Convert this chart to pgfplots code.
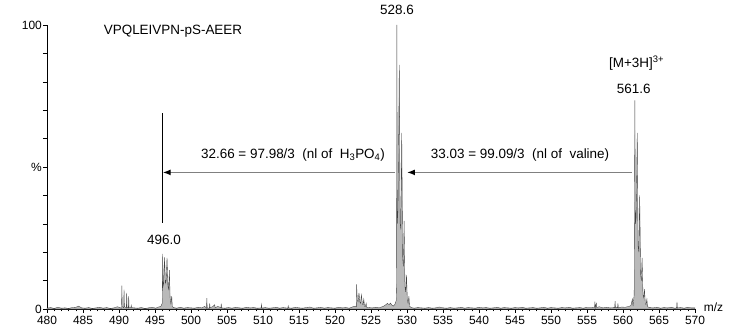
\documentclass[border=0pt]{standalone}
\usepackage{fontspec}
\setmainfont{Liberation Sans}
\usepackage{pgfplots}
\pgfplotsset{compat=1.18}
\usetikzlibrary{arrows.meta}
\begin{document}
\begin{tikzpicture}
\path[use as bounding box] (-47bp,-23bp) rectangle (683bp,309bp);
\begin{axis}[
  scale only axis, width=648bp, height=284bp,
  xmin=480, xmax=570, ymin=0, ymax=100,
  axis x line=bottom, axis y line=left,
  axis line style={-, black, line width=0.5pt},
  xtick={480,485,...,570}, minor x tick num=4,
  ytick={0,10,...,100},
  yticklabels={0,,,,,\%,,,,,100},
  tick align=outside,
  major tick length=4bp, minor tick length=2.5bp,
  tick style={black, line width=0.4pt},
  /pgf/number format/assume math mode=true,
  xticklabel style={font=\fontsize{12}{14}\selectfont, inner sep=1pt, yshift=-2bp},
  yticklabel style={font=\fontsize{12}{14}\selectfont, inner sep=1pt},
  clip=false,
]
\addplot[draw=black!75, fill=gray!55, line width=0.35pt] table {
x y
480.0 0.3
480.5 0.5
481.0 0.2
481.5 0.6
482.0 0.3
482.5 0.4
483.0 0.2
483.5 0.5
484.0 0.6
484.4 1.0
484.8 0.4
485.3 0.3
485.8 0.5
486.3 0.2
486.8 0.4
487.3 0.6
487.8 0.3
488.3 0.5
488.8 0.2
489.3 0.4
489.8 0.8
490.1 0.5
490.35 0.3
490.4 8.2
490.45 0.8
490.65 0.5
490.7 6.8
490.75 0.8
491.02 0.4
491.07 5.7
491.12 0.6
491.3 0.4
491.35 4.5
491.4 0.5
491.65 0.6
491.7 1.3
491.75 0.5
492.1 0.4
492.6 0.3
493.1 0.5
493.6 0.2
494.1 0.4
494.6 0.6
495.1 0.3
495.5 0.7
495.8 0.9
496.0 2
496.07 19.4
496.12 8
496.2 9
496.33 18.2
496.45 9
496.55 10
496.67 18.0
496.8 8
496.9 7
497.0 13.7
497.1 4
497.2 2
497.33 4.5
497.4 0.8
497.6 0.5
498.0 0.3
498.5 0.6
499.0 0.3
499.5 0.5
500.0 0.4
500.5 0.3
501.0 0.6
501.5 0.4
501.9 0.9
502.15 0.3
502.2 3.8
502.25 0.4
502.55 0.3
502.6 2.0
502.65 0.5
503.0 0.8
503.3 1.5
503.35 0.4
503.7 0.9
504.15 0.5
504.2 1.9
504.25 0.4
504.7 0.3
505.2 0.5
505.7 0.3
506.2 0.6
506.7 0.4
507.2 0.3
507.7 0.6
508.2 0.4
508.7 0.5
509.2 0.3
509.75 0.4
509.8 1.6
509.85 0.3
510.3 0.5
510.8 0.3
511.3 0.4
511.8 0.6
512.3 0.3
512.8 0.5
513.45 0.3
513.5 1.1
513.55 0.4
514.0 0.3
514.5 0.6
515.0 0.4
515.5 0.3
516.0 0.5
516.5 0.7
517.0 0.3
517.5 0.4
518.0 0.6
518.5 0.3
519.0 0.5
519.5 0.4
520.0 0.3
520.5 0.6
521.0 0.4
521.5 0.5
522.0 0.3
522.5 0.8
522.85 1.0
522.97 0.8
523.0 8.7
523.1 3
523.2 2.5
523.33 5.7
523.45 2.5
523.55 2.0
523.67 5.0
523.8 1.8
523.9 1.5
524.0 3.5
524.1 1.0
524.2 0.8
524.33 2.0
524.4 0.6
524.7 0.5
525.2 0.4
525.7 0.6
526.2 0.5
526.7 0.9
527.0 1.4
527.3 2.0
527.5 1.5
527.7 2.1
527.9 1.4
528.1 1.0
528.3 1.5
528.5 3
528.55 10
528.6 100
528.65 30
528.75 35
528.93 86
529.05 30
529.15 28
529.27 62
529.4 18
529.5 15
529.6 31
529.72 8
529.82 6
529.93 12
530.05 3
530.15 2
530.27 4.5
530.35 1
530.6 0.5
531.0 0.3
531.5 0.5
532.0 0.4
532.5 0.3
533.0 0.5
533.5 0.3
534.0 0.4
534.5 0.7
535.0 0.4
535.5 0.3
536.0 0.5
536.5 0.3
537.0 0.4
537.5 0.6
538.0 0.3
538.5 0.5
539.0 0.4
539.5 0.3
540.0 0.6
540.5 0.4
541.0 0.5
541.5 0.3
542.0 0.4
542.5 0.6
543.0 0.3
543.5 0.5
544.0 0.4
544.5 0.3
545.0 0.5
545.5 0.4
546.0 0.6
546.5 0.3
547.0 0.4
547.5 0.5
548.0 0.3
548.5 0.4
549.0 0.6
549.5 0.3
550.0 0.5
550.5 0.4
551.0 0.3
551.5 0.5
552.0 0.4
552.5 0.6
553.0 0.3
553.5 0.4
554.0 0.5
554.5 0.3
555.0 0.6
555.7 0.6
556.05 0.5
556.1 2.6
556.15 0.5
556.3 2.0
556.35 0.5
556.7 0.8
557.2 0.4
557.7 0.6
558.2 0.4
558.85 0.5
558.9 2.8
558.95 0.5
559.25 0.5
559.3 2.0
559.35 0.4
559.8 0.7
560.3 0.6
560.8 0.9
561.1 1.2
561.3 3.5
561.4 1.0
561.55 5
561.65 73.5
561.72 30
561.82 32
561.98 62
562.1 22
562.2 20
562.32 40
562.45 12
562.55 10
562.65 18
562.78 5
562.88 4
562.98 7
563.1 2
563.2 1.5
563.32 3.5
563.4 0.8
563.7 0.5
564.2 0.4
564.7 0.6
565.2 0.3
565.7 0.5
566.2 0.4
566.7 0.6
567.2 0.3
567.45 0.4
567.5 2.5
567.55 0.4
568.0 0.5
568.5 0.3
569.0 0.6
569.5 0.4
570.0 0.4
} \closedcycle;
% annotations
\draw[black, line width=0.5pt] (axis cs:496.07,30.3) -- (axis cs:496.07,69);
\draw[gray, line width=1.4pt, -{Latex[black,length=8bp,width=6bp]}] (axis cs:528.33,48.1) -- (axis cs:496.07,48.1);
\draw[gray, line width=1.4pt, -{Latex[black,length=8bp,width=6bp]}] (axis cs:561.25,48.1) -- (axis cs:530.0,48.1);
\begin{scope}[every node/.style={font=\fontsize{13.5}{16}\selectfont, inner sep=0pt}]
\node at (axis cs:497.5,97.9) {VPQLEIVPN-pS-AEER};
\node at (axis cs:528.6,105.3) {528.6};
\node at (axis cs:561.5,77.5) {561.6};
\node at (axis cs:561.9,86.6) {[M+3H]\textsuperscript{3+}};
\node at (axis cs:496.25,24.3) {496.0};
\node at (axis cs:514.17,54.2) {32.66 = 97.98/3\ \ (nl of\ \ H\textsubscript{3}PO\textsubscript{4})};
\node at (axis cs:545.7,54.2) {33.03 = 99.09/3\ \ (nl of\ \ valine)};
\node[font=\fontsize{12}{14}\selectfont, anchor=west] at (axis cs:571.2,0.6) {m/z};
\end{scope}
\end{axis}
\end{tikzpicture}
\end{document}
